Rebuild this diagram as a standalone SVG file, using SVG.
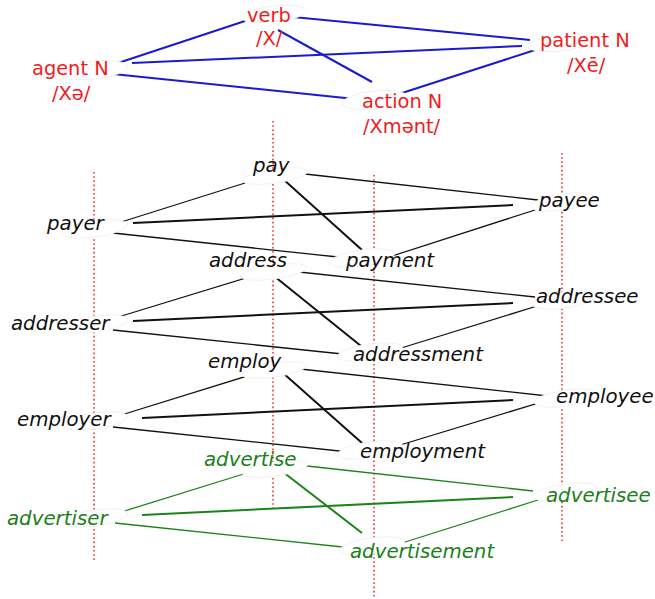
<svg xmlns="http://www.w3.org/2000/svg" width="655" height="599" viewBox="0 0 655 599">
<style>
.grid{stroke:#ee3333;stroke-width:1.6;stroke-dasharray:1.6,2.6;fill:none}
.blue{stroke:#1a1ad0;stroke-width:2;fill:none}
.thin{stroke:#111;stroke-width:1.3;fill:none}
.thick{stroke:#111;stroke-width:2;fill:none}
.gthin{stroke:#1a841a;stroke-width:1.3;fill:none}
.gthick{stroke:#1a841a;stroke-width:2;fill:none}
.el{fill:#fff;stroke:#ececec;stroke-width:0.7}
.rt{font-family:"DejaVu Sans",Verdana,sans-serif;font-size:19.4px;fill:#f01c1c}
.bt{font-family:"DejaVu Sans",Verdana,sans-serif;font-size:19.8px;font-style:italic;fill:#111}
.gt{font-family:"DejaVu Sans",Verdana,sans-serif;font-size:19.8px;font-style:italic;fill:#1a801a}
</style>
<rect width="655" height="599" fill="#fff"/>
<g id="grid">
<line class="grid" x1="94" y1="172" x2="94" y2="560"/>
<line class="grid" x1="273" y1="121" x2="273" y2="510"/>
<line class="grid" x1="374" y1="175" x2="374" y2="597"/>
<line class="grid" x1="562" y1="153" x2="562" y2="541"/>
</g>
<g id="connectors">
<line class="blue" x1="118" y1="63" x2="245" y2="21"/>
<line class="blue" x1="293" y1="17" x2="530" y2="40"/>
<line class="blue" x1="278" y1="30" x2="372" y2="82"/>
<line class="blue" x1="132" y1="63" x2="522" y2="46"/>
<line class="blue" x1="113" y1="74" x2="355" y2="99"/>
<line class="blue" x1="402" y1="93" x2="535" y2="50"/>

<line class="thin" x1="245" y1="183" x2="118" y2="223"/>
<line class="thin" x1="305" y1="174" x2="538" y2="200"/>
<line class="thick" x1="283" y1="179" x2="362" y2="250"/>
<line class="thick" x1="133" y1="223" x2="513" y2="205"/>
<line class="thin" x1="113" y1="233" x2="338" y2="257"/>
<line class="thin" x1="392" y1="256" x2="535" y2="210"/>

<line class="thin" x1="272" y1="270" x2="115" y2="318"/>
<line class="thin" x1="280" y1="270" x2="535" y2="297"/>
<line class="thick" x1="274" y1="276" x2="361" y2="346"/>
<line class="thick" x1="133" y1="321" x2="513" y2="303"/>
<line class="thin" x1="113" y1="330" x2="352" y2="355"/>
<line class="thin" x1="398" y1="349" x2="537" y2="306"/>

<line class="thin" x1="273" y1="368" x2="118" y2="416"/>
<line class="thin" x1="282" y1="367" x2="557" y2="397"/>
<line class="thick" x1="283" y1="373" x2="362" y2="443"/>
<line class="thick" x1="142" y1="418" x2="513" y2="400"/>
<line class="thin" x1="113" y1="427" x2="358" y2="453"/>
<line class="thin" x1="397" y1="446" x2="555" y2="398"/>

<line class="gthin" x1="250" y1="472" x2="118" y2="513"/>
<line class="gthin" x1="298" y1="465" x2="533" y2="491"/>
<line class="gthick" x1="283" y1="472" x2="362" y2="533"/>
<line class="gthick" x1="142" y1="515" x2="513" y2="497"/>
<line class="gthin" x1="115" y1="523" x2="352" y2="548"/>
<line class="gthin" x1="402" y1="543" x2="538" y2="500"/>
</g>
<g id="agentN"><ellipse class="el" cx="94" cy="70" rx="34" ry="9" transform="rotate(-6 94 70)"/><text class="rt" x="32" y="75">agent N</text><text class="rt" x="52" y="100">/Xə/</text></g>
<g id="verb"><ellipse class="el" cx="274" cy="14" rx="33" ry="8" transform="rotate(-6 274 14)"/><text class="rt" x="247" y="22">verb</text><text class="rt" x="256" y="45">/X/</text></g>
<g id="patientN"><ellipse class="el" cx="560" cy="43" rx="33" ry="8" transform="rotate(-6 560 43)"/><text class="rt" x="540" y="47">patient N</text><text class="rt" x="567" y="72">/Xē/</text></g>
<g id="actionN"><ellipse class="el" cx="375" cy="100" rx="33" ry="9" transform="rotate(-6 375 100)"/><text class="rt" x="362" y="108">action N</text><text class="rt" x="363" y="133">/Xmənt/</text></g>

<g id="pay"><ellipse class="el" cx="275" cy="176" rx="33" ry="7" transform="rotate(-8 275 176)"/><text class="bt" x="253" y="172">pay</text></g>
<g id="payer"><ellipse class="el" cx="95" cy="229" rx="33" ry="8" transform="rotate(-8 95 229)"/><text class="bt" x="47" y="230">payer</text></g>
<g id="payee"><ellipse class="el" cx="563" cy="202" rx="32" ry="8" transform="rotate(-8 563 202)"/><text class="bt" x="539" y="207">payee</text></g>
<g id="payment"><ellipse class="el" cx="362" cy="258" rx="33" ry="8" transform="rotate(-8 362 258)"/><text class="bt" x="346" y="267">payment</text></g>

<g id="address"><ellipse class="el" cx="274" cy="272" rx="33" ry="7" transform="rotate(-8 274 272)"/><text class="bt" x="209" y="267">address</text></g>
<g id="addresser"><ellipse class="el" cx="95" cy="324" rx="33" ry="8" transform="rotate(-8 95 324)"/><text class="bt" x="11" y="330">addresser</text></g>
<g id="addressee"><ellipse class="el" cx="564" cy="300" rx="32" ry="8" transform="rotate(-8 564 300)"/><text class="bt" x="536" y="303">addressee</text></g>
<g id="addressment"><ellipse class="el" cx="370" cy="352" rx="33" ry="8" transform="rotate(-8 370 352)"/><text class="bt" x="353" y="361">addressment</text></g>

<g id="employ"><ellipse class="el" cx="274" cy="370" rx="33" ry="7" transform="rotate(-8 274 370)"/><text class="bt" x="208" y="368">employ</text></g>
<g id="employer"><ellipse class="el" cx="95" cy="421" rx="33" ry="8" transform="rotate(-8 95 421)"/><text class="bt" x="17" y="426">employer</text></g>
<g id="employee"><ellipse class="el" cx="566" cy="398" rx="32" ry="8" transform="rotate(-8 566 398)"/><text class="bt" x="556" y="403">employee</text></g>
<g id="employment"><ellipse class="el" cx="370" cy="450" rx="33" ry="8" transform="rotate(-8 370 450)"/><text class="bt" x="360" y="458">employment</text></g>

<g id="advertise"><ellipse class="el" cx="275" cy="469" rx="33" ry="7" transform="rotate(-8 275 469)"/><text class="gt" x="204" y="466">advertise</text></g>
<g id="advertiser"><ellipse class="el" cx="95" cy="518" rx="33" ry="8" transform="rotate(-8 95 518)"/><text class="gt" x="7" y="525">advertiser</text></g>
<g id="advertisee"><ellipse class="el" cx="565" cy="492" rx="32" ry="8" transform="rotate(-8 565 492)"/><text class="gt" x="546" y="502">advertisee</text></g>
<g id="advertisement"><ellipse class="el" cx="372" cy="546" rx="33" ry="8" transform="rotate(-8 372 546)"/><text class="gt" x="350" y="558">advertisement</text></g>
</svg>
